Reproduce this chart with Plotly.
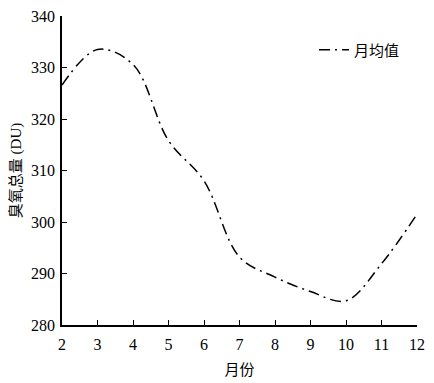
import plotly.graph_objects as go

months = [2, 3, 4, 5, 6, 7, 8, 9, 10, 11, 12]
ozone = [326.6, 333.5, 330.6, 315.8, 308.0, 293.2, 289.3, 286.5, 284.7, 291.9, 301.5]
x_ticks = [2, 3, 4, 5, 6, 7, 8, 9, 10, 11, 12]
y_ticks = [280, 290, 300, 310, 320, 330, 340]

serif = "Liberation Serif, Times New Roman, serif"
mixed = "Liberation Serif, Times New Roman, Noto Sans CJK SC"

fig = go.Figure()
fig.add_trace(go.Scatter(
    x=months, y=ozone, mode="lines", name="月均值",
    line=dict(color="black", width=1.5, shape="spline", smoothing=1.0,
              dash="11px,5px,2px,5px"),
))

# page body adds 8px margin; figure is sized to fill the rest of the window
fig.update_layout(
    width=426, height=375,
    margin=dict(l=54, r=17, t=8, b=58, autoexpand=False),
    paper_bgcolor="white", plot_bgcolor="white",
    font=dict(family=mixed, size=16, color="black"),
    showlegend=True,
    legend=dict(x=0.71, y=0.89, xanchor="left", yanchor="middle",
                bgcolor="rgba(0,0,0,0)", font=dict(family=mixed, size=15)),
    xaxis=dict(range=[2, 12], tickvals=x_ticks, ticks="inside", ticklen=5,
               tickwidth=1.2, tickcolor="black", showline=True, linecolor="black",
               linewidth=1.5, showgrid=False, zeroline=False, automargin=False,
               ticklabeloverflow="allow",
               tickfont=dict(family=serif, size=16), ticklabelstandoff=4,
               title=dict(text="月份", standoff=13, font=dict(family=mixed, size=15))),
    yaxis=dict(range=[280, 340], tickvals=y_ticks, ticks="inside", ticklen=5,
               tickwidth=1.2, tickcolor="black", showline=True, linecolor="black",
               linewidth=1.5, showgrid=False, zeroline=False, automargin=False,
               ticklabeloverflow="allow",
               tickfont=dict(family=serif, size=16), ticklabelstandoff=2,
               title=dict(text="臭氧总量 (DU)", standoff=12, font=dict(family=mixed, size=15))),
)

fig.write_html("out.html")
